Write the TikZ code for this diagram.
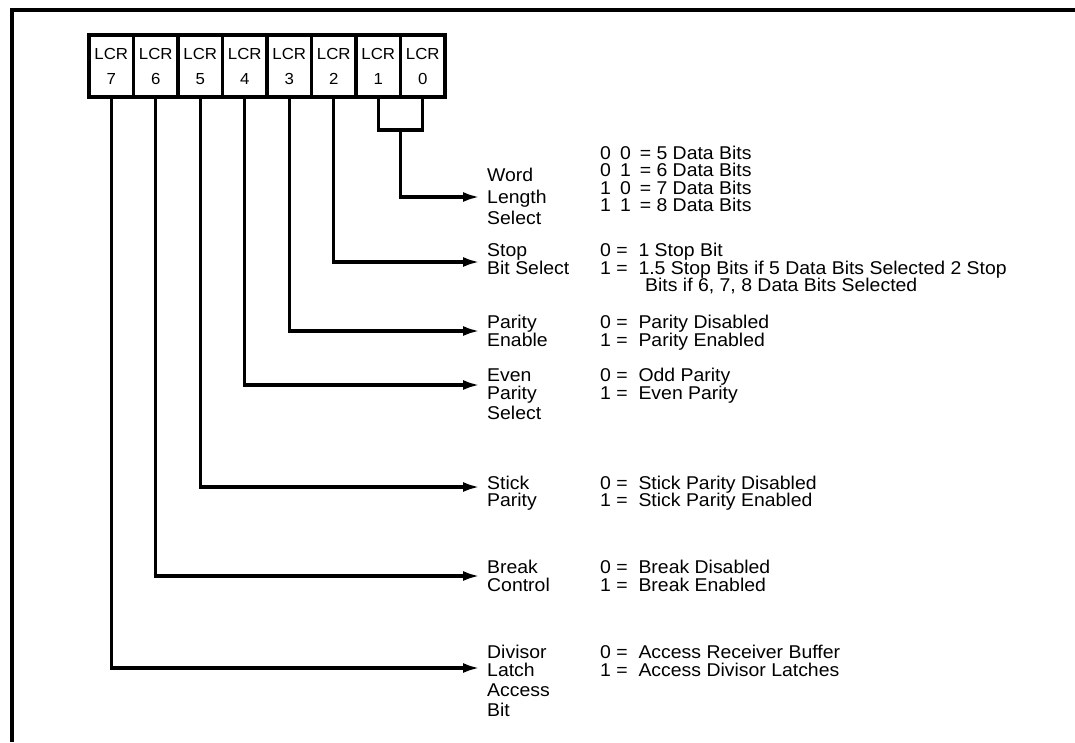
\documentclass[tikz,border=0pt]{standalone}
\usepackage{fontspec}
\setmainfont{Liberation Sans}[FakeStretch=1.05]
\usetikzlibrary{arrows.meta}
\newcommand{\pairgap}{\hspace{9pt}}
\begin{document}
\begin{tikzpicture}[x=1pt,y=-1pt,
  wire/.style={line width=3.4pt},
  arr/.style={wire,-{Latex[length=17pt,width=10pt]}},
  cell/.style={draw,line width=3.4pt,minimum width=44.5pt,minimum height=62pt,inner sep=0pt,align=center,font=\fontsize{16}{25}\selectfont},
  lbl/.style={anchor=base west,inner sep=0pt,font=\fontsize{18.5}{20}\selectfont},
]
\useasboundingbox (0,0) rectangle (1075,742);
\draw[line width=3.5pt] (12,742) -- (12,10) -- (1075,10);
% register cells
\node[cell] (c7) at (111.25,66) {LCR\\7};
\node[cell] (c6) at (155.75,66) {LCR\\6};
\node[cell] (c5) at (200.25,66) {LCR\\5};
\node[cell] (c4) at (244.75,66) {LCR\\4};
\node[cell] (c3) at (289.25,66) {LCR\\3};
\node[cell] (c2) at (333.75,66) {LCR\\2};
\node[cell] (c1) at (378.25,66) {LCR\\1};
\node[cell] (c0) at (422.75,66) {LCR\\0};
% arrow targets
\coordinate (a1) at (480,197);
\coordinate (a2) at (480,262);
\coordinate (a3) at (480,331);
\coordinate (a4) at (480,385);
\coordinate (a5) at (480,487);
\coordinate (a6) at (480,576);
\coordinate (a7) at (480,668);
\coordinate (j1) at (378.25,130);
\coordinate (j0) at (422.75,130);
\coordinate (jm) at (400.5,130);
% connectors
\draw[wire,line join=miter] (c1.south) -- (j1) -- (j0) -- (c0.south);
\draw[arr] (jm) |- (a1);
\draw[arr] (c2.south) |- (a2);
\draw[arr] (c3.south) |- (a3);
\draw[arr] (c4.south) |- (a4);
\draw[arr] (c5.south) |- (a5);
\draw[arr] (c6.south) |- (a6);
\draw[arr] (c7.south) |- (a7);
% left labels
\node[lbl] (l1a) at (487,181) {Word};
\node[lbl] (l1b) at (487,203) {Length};
\node[lbl] (l1c) at (487,224) {Select};
\node[lbl] (l2a) at (487,256) {Stop};
\node[lbl] (l2b) at (487,274) {Bit Select};
\node[lbl] (l3a) at (487,328) {Parity};
\node[lbl] (l3b) at (487,346) {Enable};
\node[lbl] (l4a) at (487,381) {Even};
\node[lbl] (l4b) at (487,399) {Parity};
\node[lbl] (l4c) at (487,419) {Select};
\node[lbl] (l5a) at (487,489) {Stick};
\node[lbl] (l5b) at (487,506) {Parity};
\node[lbl] (l6a) at (487,573) {Break};
\node[lbl] (l6b) at (487,591) {Control};
\node[lbl] (l7a) at (487,658) {Divisor};
\node[lbl] (l7b) at (487,676) {Latch};
\node[lbl] (l7c) at (487,696) {Access};
\node[lbl] (l7d) at (487,716) {Bit};
% right values
\node[lbl] (v1a) at (600,159) {0\pairgap0\pairgap= 5 Data Bits};
\node[lbl] (v1b) at (600,176) {0\pairgap1\pairgap= 6 Data Bits};
\node[lbl] (v1c) at (600,194) {1\pairgap0\pairgap= 7 Data Bits};
\node[lbl] (v1d) at (600,211) {1\pairgap1\pairgap= 8 Data Bits};
\node[lbl] (v2a) at (600,256) {0 = \ 1 Stop Bit};
\node[lbl] (v2b) at (600,274) {1 = \ 1.5 Stop Bits if 5 Data Bits Selected 2 Stop};
\node[lbl] (v2c) at (645,291) {Bits if 6, 7, 8 Data Bits Selected};
\node[lbl] (v3a) at (600,328) {0 = \ Parity Disabled};
\node[lbl] (v3b) at (600,346) {1 = \ Parity Enabled};
\node[lbl] (v4a) at (600,381) {0 = \ Odd Parity};
\node[lbl] (v4b) at (600,399) {1 = \ Even Parity};
\node[lbl] (v5a) at (600,489) {0 = \ Stick Parity Disabled};
\node[lbl] (v5b) at (600,506) {1 = \ Stick Parity Enabled};
\node[lbl] (v6a) at (600,573) {0 = \ Break Disabled};
\node[lbl] (v6b) at (600,591) {1 = \ Break Enabled};
\node[lbl] (v7a) at (600,658) {0 = \ Access Receiver Buffer};
\node[lbl] (v7b) at (600,676) {1 = \ Access Divisor Latches};
\end{tikzpicture}
\end{document}
